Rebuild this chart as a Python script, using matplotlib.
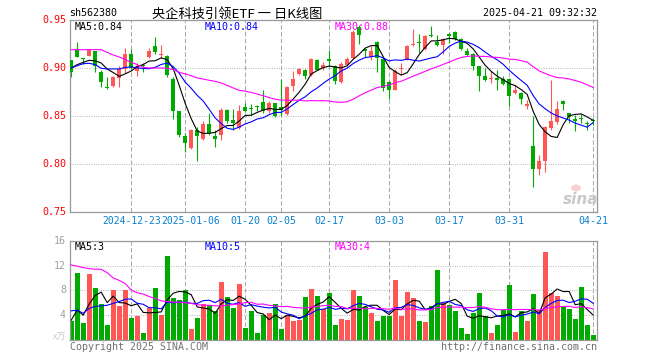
import matplotlib
matplotlib.use("Agg")
import matplotlib.pyplot as plt
from matplotlib.patches import Ellipse
import numpy as np
import pandas as pd

W, H = 660, 360
plt.rcParams['font.family'] = ['DejaVu Sans Mono', 'Noto Sans CJK SC']

# ---------------- data ----------------
opens = [0.908, 0.920, 0.910, 0.913, 0.918, 0.8955, 0.880, 0.881, 0.8896, 0.899,
         0.915, 0.8965, 0.9035, 0.911, 0.9226, 0.9132, 0.913, 0.8885, 0.855, 0.8295,
         0.8167, 0.8358, 0.826, 0.842, 0.8295, 0.8306, 0.8559, 0.8462, 0.8375, 0.8594,
         0.8575, 0.8596, 0.8642, 0.8549, 0.8635, 0.8594, 0.8524, 0.8809, 0.8941, 0.8983,
         0.8931, 0.9087, 0.9000, 0.9082, 0.9024, 0.8854, 0.9028, 0.9104, 0.9427, 0.9186,
         0.9115, 0.9271, 0.9094, 0.8854, 0.8774, 0.8990, 0.9087, 0.9243, 0.9262, 0.9201,
         0.9337, 0.9267, 0.9236, 0.9342, 0.9372, 0.9302, 0.9181, 0.9146, 0.9017, 0.8913,
         0.8883, 0.8896, 0.8885, 0.8885, 0.8740, 0.8740, 0.8601, 0.8184, 0.7948, 0.8028,
         0.8375, 0.8434, 0.8660, 0.8531, 0.8457, 0.8470, 0.8422, 0.8462]
highs = [0.908, 0.927, 0.910, 0.920, 0.918, 0.898, 0.891, 0.892, 0.902, 0.921,
         0.920, 0.905, 0.905, 0.921, 0.932, 0.924, 0.914, 0.891, 0.855, 0.832,
         0.836, 0.8385, 0.8444, 0.853, 0.8358, 0.8583, 0.8573, 0.8573, 0.8618, 0.8635,
         0.8628, 0.8618, 0.8767, 0.8653, 0.8635, 0.8885, 0.8809, 0.8965, 0.9000, 0.8993,
         0.9104, 0.9094, 0.9059, 0.9191, 0.9035, 0.9059, 0.9115, 0.9399, 0.9451, 0.9208,
         0.9226, 0.9278, 0.9104, 0.8861, 0.8990, 0.9052, 0.9243, 0.9406, 0.9358, 0.9347,
         0.9434, 0.9347, 0.9313, 0.9365, 0.9382, 0.9313, 0.9208, 0.9156, 0.9017, 0.9000,
         0.8965, 0.8983, 0.8913, 0.8896, 0.8826, 0.8747, 0.8670, 0.8497, 0.8097, 0.8392,
         0.8878, 0.8653, 0.8663, 0.8531, 0.8514, 0.8521, 0.8444, 0.8479]
lows = [0.891, 0.911, 0.904, 0.913, 0.896, 0.880, 0.878, 0.880, 0.880, 0.895,
        0.899, 0.892, 0.8955, 0.910, 0.9146, 0.910, 0.891, 0.8469, 0.828, 0.813,
        0.8156, 0.8035, 0.8247, 0.8306, 0.8174, 0.8253, 0.8427, 0.8358, 0.8365, 0.8538,
        0.8514, 0.8549, 0.8531, 0.8531, 0.8490, 0.8497, 0.8514, 0.8757, 0.8931, 0.8885,
        0.8913, 0.8976, 0.8976, 0.9017, 0.8837, 0.8844, 0.9017, 0.9094, 0.9253, 0.9115,
        0.9080, 0.8955, 0.8757, 0.8681, 0.8767, 0.8931, 0.9080, 0.9226, 0.9156, 0.9191,
        0.9323, 0.9226, 0.9149, 0.9260, 0.9295, 0.9191, 0.9122, 0.8976, 0.8757, 0.8861,
        0.8844, 0.8767, 0.8826, 0.8601, 0.8733, 0.8628, 0.8573, 0.7757, 0.7889, 0.7913,
        0.8358, 0.8420, 0.8566, 0.8427, 0.8340, 0.8427, 0.8358, 0.8410]
closes = [0.896, 0.911, 0.909, 0.919, 0.902, 0.885, 0.8795, 0.891, 0.899, 0.915,
          0.900, 0.9024, 0.9017, 0.9174, 0.9163, 0.9149, 0.893, 0.8549, 0.8306, 0.822,
          0.8358, 0.8288, 0.842, 0.8316, 0.8264, 0.8559, 0.8444, 0.8427, 0.8549, 0.8549,
          0.8570, 0.8592, 0.8549, 0.8635, 0.8497, 0.8566, 0.8802, 0.8885, 0.8993, 0.8913,
          0.9094, 0.8983, 0.9035, 0.9078, 0.8861, 0.9045, 0.9097, 0.9372, 0.9340, 0.9182,
          0.9174, 0.9104, 0.8792, 0.8774, 0.8965, 0.8995, 0.9233, 0.9253, 0.9258, 0.9337,
          0.9330, 0.9236, 0.9306, 0.9338, 0.9306, 0.9201, 0.9132, 0.9017, 0.8913, 0.8878,
          0.8887, 0.8878, 0.8837, 0.8712, 0.8767, 0.8681, 0.8628, 0.7951, 0.8028, 0.8385,
          0.8444, 0.8573, 0.8625, 0.8490, 0.8453, 0.8467, 0.8418, 0.8444]
volumes = [3.1, 10.85, 2.8, 10.7, 8.4, 5.8, 2.4, 8.05, 5.5, 8.05,
           3.6, 3.9, 1.2, 5.1, 8.4, 4.0, 13.5, 6.7, 6.5, 8.05,
           1.8, 3.6, 5.8, 5.7, 4.6, 9.4, 7.0, 5.2, 9.1, 2.0,
           4.6, 1.2, 4.1, 4.4, 5.8, 1.7, 4.0, 3.1, 3.3, 7.0,
           8.2, 7.1, 5.0, 7.6, 2.4, 3.4, 3.2, 8.05, 7.1, 5.3,
           4.4, 3.1, 3.9, 3.8, 9.7, 3.9, 7.8, 6.8, 3.1, 2.9,
           5.4, 11.2, 6.0, 5.6, 4.6, 2.0, 1.0, 4.3, 7.6, 3.8,
           1.2, 2.4, 4.8, 8.9, 1.3, 4.6, 3.0, 7.4, 4.9, 14.1,
           7.6, 7.1, 5.3, 5.0, 3.4, 8.5, 2.4, 0.8]

# moving-average values before enough candles are on screen
ma5_head = [0.9000, 0.9035, 0.9059, 0.9080]
ma10_head = [0.9000, 0.9024, 0.9045, 0.9049, 0.9035, 0.8997, 0.8990, 0.8990, 0.8990]
ma30_head = [0.9191, 0.9191, 0.9191, 0.9191, 0.9191, 0.9191, 0.9163, 0.9135, 0.9115, 0.9087,
             0.9059, 0.9035, 0.9007, 0.9000, 0.9000, 0.9000, 0.8997, 0.8983, 0.8955, 0.8938,
             0.8920, 0.8896, 0.8885, 0.8872, 0.8861, 0.8844, 0.8819, 0.8792, 0.8767]
vma5_head = [3.2, 4.8, 4.0, 5.8]
vma10_head = [4.7, 4.8, 4.3, 5.1, 5.4, 5.5, 5.6, 5.9, 6.2]
vma30_head = [12.1, 11.9, 11.65, 11.5, 11.4, 11.4, 10.85, 10.0, 9.6, 9.1,
              8.05, 7.6, 7.4, 7.0, 6.7, 6.3, 6.2, 6.1, 6.1, 6.0,
              5.9, 5.7, 5.6, 5.6, 5.5, 5.5, 5.6, 5.7, 5.8]

tick_idx = [10, 19, 29, 35, 43, 53, 63, 73, 87]
tick_labels = ['2024-12-23', '2025-01-06', '01-20', '02-05', '02-17',
               '03-03', '03-17', '03-31', '04-21']
price_ticks = [0.95, 0.90, 0.85, 0.80, 0.75]
price_tick_labels = ['0.95', '0.90', '0.85', '0.80', '0.75']
vol_ticks = [16, 12, 8, 4]
vol_tick_labels = ['16', '12', '8', '4']

title_code = 'sh562380'
title_main = '央企科技引领ETF 一 日K线图'
title_time = '2025-04-21 09:32:32'
ma_labels = ['MA5:0.84', 'MA10:0.84', 'MA30:0.88']
vma_labels = ['MA5:3', 'MA10:5', 'MA30:4']

# ---------------- helpers ----------------
def with_head(head, series, window):
    s = pd.Series(series, dtype=float).rolling(window).mean().to_numpy()
    s[:len(head)] = head
    return s

RED = '#ff5656'
GREEN = '#00aa00'
MA_COLORS = ['#000000', '#0000ff', '#ff00ff']
GRID = '#aaaaaa'
BORDER = '#999999'
BLUE_TXT = '#0a80d0'

o = np.array(opens); h = np.array(highs); l = np.array(lows); c = np.array(closes)
v = np.array(volumes)
n = len(c)
idx = np.arange(n)
cols = [RED if c[i] >= o[i] else GREEN for i in range(n)]

ma_p = [with_head(ma5_head, c, 5), with_head(ma10_head, c, 10), with_head(ma30_head, c, 30)]
ma_v = [with_head(vma5_head, v, 5), with_head(vma10_head, v, 10), with_head(vma30_head, v, 30)]

fig = plt.figure(figsize=(W / 100, H / 100), dpi=100)
fig.patch.set_facecolor('white')

def fx(px):
    return px / W

def fy(py):
    return 1 - py / H

LEFT, RIGHT = 70, 597
x0_px, step_px = 71.2, 6.0
xmin = (LEFT - x0_px) / step_px
xmax = (RIGHT - x0_px) / step_px

ax = fig.add_axes([fx(LEFT), fy(212), (RIGHT - LEFT) / W, (212 - 20) / H])
axv = fig.add_axes([fx(LEFT), fy(340), (RIGHT - LEFT) / W, (340 - 240.7) / H])

for a in (ax, axv):
    a.set_xlim(xmin, xmax)
    a.set_xticks([])
    a.set_yticks([])
    for s in a.spines.values():
        s.set_color(BORDER)
        s.set_linewidth(0.9)
    for t in tick_idx:
        a.axvline(t, color=GRID, lw=0.75, dashes=(4.3, 2.2), zorder=0)

ax.set_ylim(0.75, 0.95)
axv.set_ylim(0, 16)

for p in price_ticks[1:-1]:
    ax.axhline(p, color=GRID, lw=0.75, dashes=(0.75, 1.5), zorder=0)
for q in vol_ticks[1:]:
    axv.axhline(q, color=GRID, lw=0.75, dashes=(0.75, 1.5), zorder=0)

# candles
ax.vlines(idx, l, h, colors=cols, lw=0.8, zorder=2)
body_bottom = np.minimum(o, c)
body_h = np.maximum(np.abs(c - o), 0.0011)
ax.bar(idx, body_h, bottom=body_bottom, width=0.75, color=cols, lw=0, zorder=3)

for m, col in zip(ma_p, MA_COLORS):
    ax.plot(idx, m, color=col, lw=0.8, zorder=4)

# volume
axv.bar(idx, v, width=0.85, color=cols, lw=0, zorder=2)
for m, col in zip(ma_v, MA_COLORS):
    axv.plot(idx, m, color=col, lw=0.8, zorder=4)

# y labels
yt = ax.get_yaxis_transform()
for p, lab in zip(price_ticks, price_tick_labels):
    ax.text(-4 / (RIGHT - LEFT), p, lab, transform=yt, ha='right', va='center',
            color='#ff0000', fontsize=7.2)
ytv = axv.get_yaxis_transform()
for q, lab in zip(vol_ticks, vol_tick_labels):
    axv.text(-4 / (RIGHT - LEFT), q, lab, transform=ytv, ha='right', va='center',
             color='#a0a0a0', fontsize=7.2)
fig.text(fx(66), fy(337), 'x万', ha='right', va='center', color='#c8c8c8', fontsize=6.5,
         family=['Noto Sans CJK SC', 'DejaVu Sans'])

# x tick labels (the first two sit side by side instead of overlapping)
xt = ax.get_xaxis_transform()
ylab = -8.5 / 192
mid01 = (tick_idx[0] + tick_idx[1]) / 2 + 0.5
for k, (t, lab) in enumerate(zip(tick_idx, tick_labels)):
    if k == 0:
        ax.text(mid01 - 0.1, ylab, lab, transform=xt, ha='right', va='center',
                color=BLUE_TXT, fontsize=7.0)
    elif k == 1:
        ax.text(mid01 + 0.1, ylab, lab, transform=xt, ha='left', va='center',
                color=BLUE_TXT, fontsize=7.0)
    else:
        ax.text(t, ylab, lab, transform=xt, ha='center', va='center',
                color=BLUE_TXT, fontsize=7.2)

# MA labels
for xp, lab, col in zip([75, 204.5, 334.3], ma_labels, MA_COLORS):
    fig.text(fx(xp), fy(26.5), lab, ha='left', va='center', color=col, fontsize=7.2)
for xp, lab, col in zip([75, 204.5, 334.3], vma_labels, MA_COLORS):
    fig.text(fx(xp), fy(246.5), lab, ha='left', va='center', color=col, fontsize=7.2)

# header
fig.text(fx(69), fy(13.5), title_code, ha='left', va='center', color='#000000', fontsize=7.2)
fig.text(fx(236.7), fy(14), title_main, ha='center', va='center', color='#000000',
         fontsize=9.5, family=['Noto Sans CJK SC', 'DejaVu Sans'])
fig.text(fx(597), fy(13.5), title_time, ha='right', va='center', color='#000000', fontsize=7.2)

# footer
fig.text(fx(70), fy(346.5), 'Copyright 2025 SINA.COM', ha='left', va='center',
         color='#707070', fontsize=7.2)
fig.text(fx(597), fy(346.5), 'http://finance.sina.com.cn', ha='right', va='center',
         color='#707070', fontsize=7.2)

# sina watermark
fig.text(fx(581), fy(199), 'sina', ha='center', va='center', color='#c8c8c8',
         fontsize=11, fontweight='bold', style='italic', family='DejaVu Sans')
fig.patches.append(Ellipse((fx(576), fy(188)), 10 / W, 7 / H, transform=fig.transFigure,
                           facecolor='#f4c4c4', edgecolor='none', alpha=0.8))

fig.savefig('out.png', dpi=100, facecolor='white')
